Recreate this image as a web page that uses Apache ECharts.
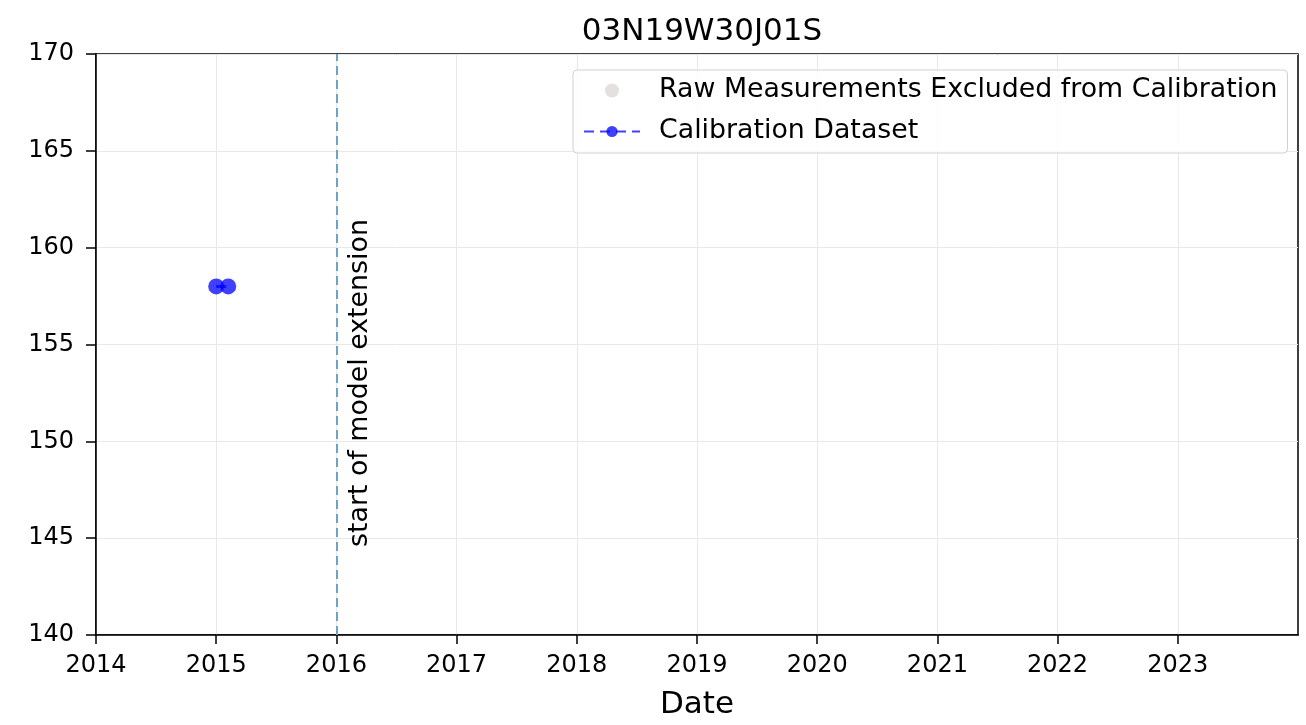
<!DOCTYPE html>
<html>
<head>
<meta charset="utf-8">
<script src="https://cdn.jsdelivr.net/npm/echarts@6/dist/echarts.min.js"></script>
<style>html,body{margin:0;padding:0;background:#fff;}#c{width:1306px;height:725px;}</style>
</head>
<body>
<div id="c"></div>
<script>
const titleText = '03N19W30J01S';
const xLabel = 'Date';
const xRange = [2014, 2024];
const xTicks = [2014, 2015, 2016, 2017, 2018, 2019, 2020, 2021, 2022, 2023];
const yRange = [140, 170];
const rawDates = [];
const rawValues = [];
const calDates = [2015.0, 2015.1];
const calValues = [158, 158];
const extensionStart = 2016;
const extensionLabel = 'start of model extension';
const seriesNames = ['Raw Measurements Excluded from Calibration', 'Calibration Dataset'];

const font = 'DejaVu Sans';
const chart = echarts.init(document.getElementById('c'), null, {renderer: 'canvas'});
chart.setOption({
  animation: false,
  backgroundColor: '#fff',
  textStyle: {fontFamily: font},
  title: {
    text: titleText, left: 697, top: 11, textAlign: 'center',
    textStyle: {fontFamily: font, fontSize: 31, fontWeight: 'normal', color: '#000'}
  },
  grid: {left: 96, right: 8, top: 54, bottom: 89, show: true, borderColor: '#000', borderWidth: 1.5, backgroundColor: 'transparent'},
  legend: {
    orient: 'vertical', left: 573, top: 70,
    data: seriesNames,
    itemWidth: 56, itemHeight: 14, itemGap: 14,
    padding: [7, 10, 8, 10],
    borderColor: '#d0d0d0', borderWidth: 1, borderRadius: 4,
    backgroundColor: 'rgba(255,255,255,0.8)',
    textStyle: {fontFamily: font, fontSize: 26.8, color: '#000', padding: [0, 0, 0, 14]}
  },
  xAxis: {
    type: 'value', min: xRange[0], max: xRange[1], interval: 1,
    name: xLabel, nameLocation: 'middle', nameGap: 54,
    nameTextStyle: {fontFamily: font, fontSize: 31, color: '#000'},
    axisLine: {show: true, onZero: false, lineStyle: {color: '#000', width: 1.5}},
    axisTick: {show: true, length: 9, customValues: xTicks, lineStyle: {color: '#000', width: 1.5}},
    axisLabel: {fontFamily: font, fontSize: 24, color: '#000', margin: 19, customValues: xTicks,
      formatter: v => String(v)},
    splitLine: {show: true, lineStyle: {color: '#e8e8e8', width: 1}}
  },
  yAxis: {
    type: 'value', min: yRange[0], max: yRange[1], interval: 5,
    axisLine: {show: true, lineStyle: {color: '#000', width: 1.5}},
    axisTick: {show: true, length: 10, lineStyle: {color: '#000', width: 1.5}},
    axisLabel: {fontFamily: font, fontSize: 24, color: '#000', margin: 22},
    splitLine: {show: true, lineStyle: {color: '#e8e8e8', width: 1}}
  },
  series: [
    {
      name: seriesNames[0], type: 'scatter',
      data: rawDates.map((d, i) => [d, rawValues[i]]),
      symbolSize: 14,
      itemStyle: {color: 'rgba(200,190,190,0.6)'}
    },
    {
      name: seriesNames[1], type: 'line',
      data: calDates.map((d, i) => [d, calValues[i]]),
      symbol: 'circle', symbolSize: 16,
      lineStyle: {type: [10, 6], width: 3, color: 'rgba(0,0,255,0.75)'},
      itemStyle: {color: 'rgba(0,0,255,0.75)', opacity: 1},
      markLine: {
        silent: true, symbol: ['none', 'none'],
        lineStyle: {type: [9, 5], width: 2, color: '#6ea3c4'},
        label: {
          show: true, position: 'insideStartBottom', formatter: extensionLabel,
          fontFamily: font, fontSize: 26.8, color: '#000', distance: 10,
          padding: [0, 0, 0, 78]
        },
        data: [{xAxis: extensionStart}]
      }
    }
  ]
});
</script>
</body>
</html>
